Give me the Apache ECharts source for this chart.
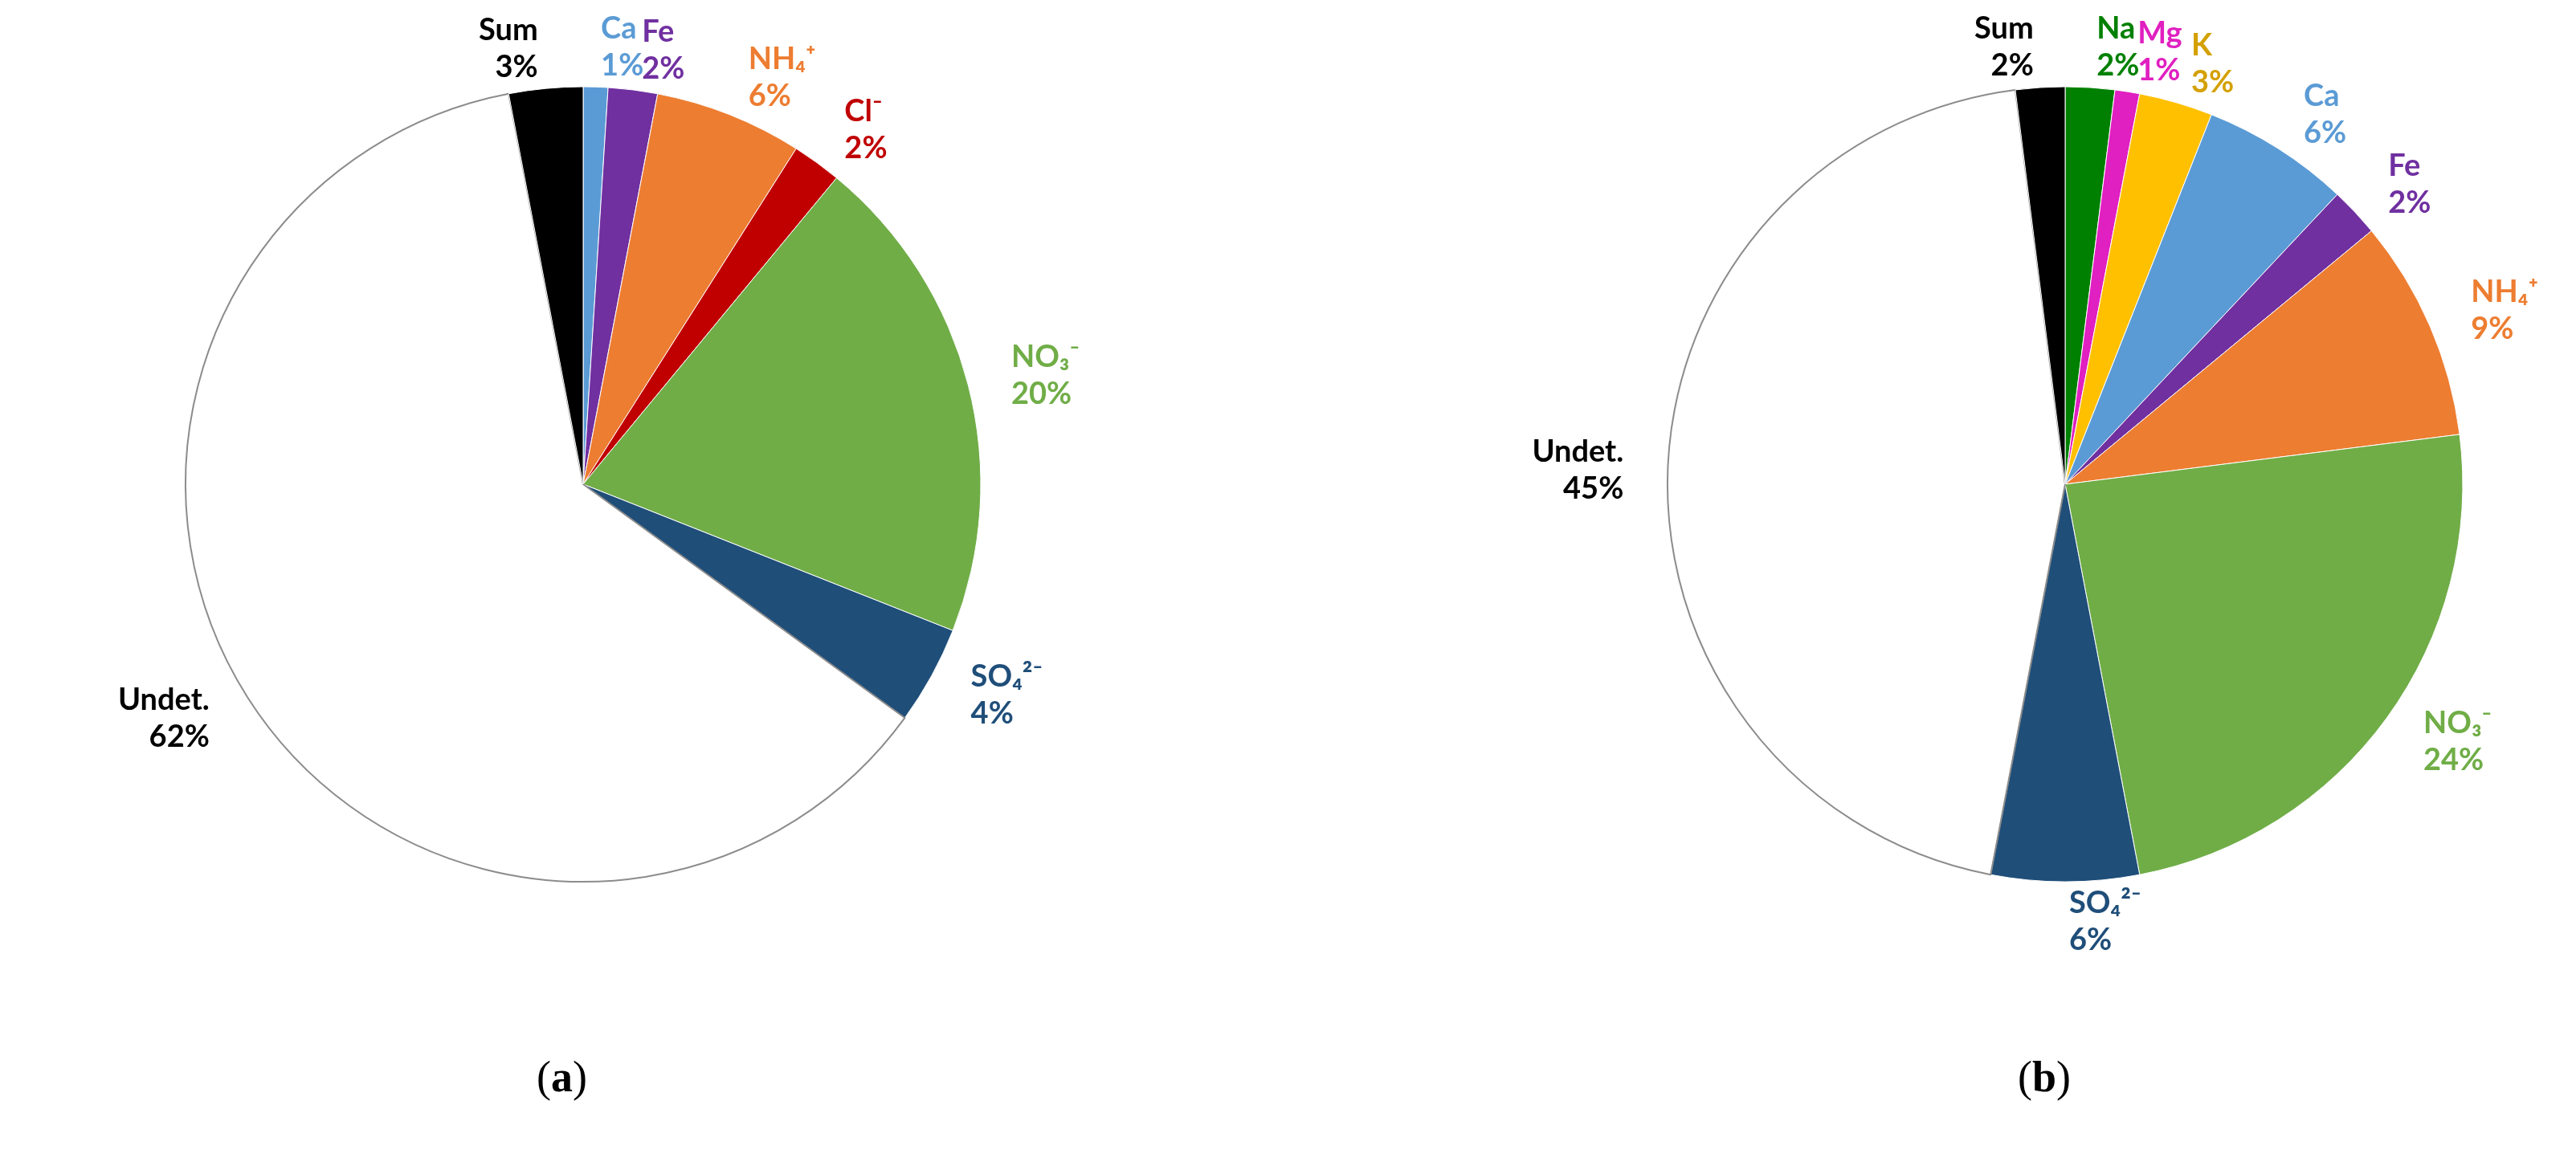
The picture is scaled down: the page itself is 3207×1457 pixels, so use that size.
<!DOCTYPE html>
<html>
<head>
<meta charset="utf-8">
<script src="https://cdn.jsdelivr.net/npm/echarts@6/dist/echarts.min.js"></script>
<style>
html, body { margin: 0; padding: 0; background: #fff; }
#chart { width: 3207px; height: 1457px; }
</style>
</head>
<body>
<div id="chart"></div>
<script>
var chart = echarts.init(document.getElementById('chart'));

// panel (a)
var namesA = ['Ca', 'Fe', 'NH₄⁺', 'Cl⁻', 'NO₃⁻', 'SO₄²⁻', 'Undet.', 'Sum'];
var valuesA = [1, 2, 6, 2, 20, 4, 62, 3];
var colorsA = ['#5B9BD5', '#7030A0', '#ED7D31', '#C00000', '#70AD47', '#1F4E79', '#FFFFFF', '#000000'];
var textA = ['#5B9BD5', '#7030A0', '#ED7D31', '#C00000', '#70AD47', '#1F4E79', '#000000', '#000000'];

// panel (b)
var namesB = ['Na', 'Mg', 'K', 'Ca', 'Fe', 'NH₄⁺', 'NO₃⁻', 'SO₄²⁻', 'Undet.', 'Sum'];
var valuesB = [2, 1, 3, 6, 2, 9, 24, 6, 45, 2];
var colorsB = ['#008000', '#E020C0', '#FFC000', '#5B9BD5', '#7030A0', '#ED7D31', '#70AD47', '#1F4E79', '#FFFFFF', '#000000'];
var textB = ['#008000', '#E020C0', '#D4A000', '#5B9BD5', '#7030A0', '#ED7D31', '#70AD47', '#1F4E79', '#000000', '#000000'];

function makeData(names, values, colors, texts) {
    return names.map(function (n, i) {
        return {
            name: n,
            value: values[i],
            itemStyle: {
                color: colors[i],
                borderColor: colors[i] === '#FFFFFF' ? '#8c8c8c' : '#ffffff',
                borderWidth: colors[i] === '#FFFFFF' ? 2 : 1
            },
            label: { color: texts[i] }
        };
    });
}

function pieSeries(center, data) {
    return {
        type: 'pie',
        center: center,
        radius: 495,
        startAngle: 90,
        clockwise: true,
        avoidLabelOverlap: false,
        minShowLabelAngle: 0,
        animation: false,
        data: data,
        label: {
            position: 'outside',
            formatter: '{b}\n{c}%',
            fontFamily: 'Lato',
            fontWeight: 'bold',
            fontSize: 38,
            lineHeight: 46,
            textAlign: 'center'
        },
        labelLine: { show: false, length: 50, length2: 0 },
        labelLayout: { hideOverlap: false },
        emphasis: { disabled: true }
    };
}

var option = {
    backgroundColor: '#ffffff',
    graphic: [
        { type: 'text', left: 668, top: 1318, style: { text: '({b|a})', font: '54px "Liberation Serif"', fill: '#000',
            rich: { b: { font: 'bold 54px "Liberation Serif"', fill: '#000' } } } },
        { type: 'text', left: 2512, top: 1318, style: { text: '({b|b})', font: '54px "Liberation Serif"', fill: '#000',
            rich: { b: { font: 'bold 54px "Liberation Serif"', fill: '#000' } } } }
    ],
    series: [
        pieSeries([726, 603], makeData(namesA, valuesA, colorsA, textA)),
        pieSeries([2571, 603], makeData(namesB, valuesB, colorsB, textB))
    ]
};

chart.setOption(option);
</script>
</body>
</html>
